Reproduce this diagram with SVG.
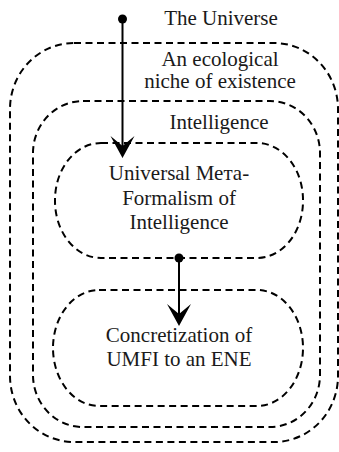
<svg xmlns="http://www.w3.org/2000/svg" width="339" height="452" viewBox="0 0 339 452">
  <style>
    .box { fill: none; stroke: #000; stroke-width: 2; stroke-dasharray: 7 4.5; }
    .lbl { font-size: 21px; fill: #1a1a1a; text-anchor: middle; }
    .edge { stroke: #000; stroke-width: 2; fill: none; }
  </style>
  <defs>
    <marker id="arrow" viewBox="-15 -14 25 28" markerWidth="25" markerHeight="28" refX="0" refY="0" orient="auto" markerUnits="userSpaceOnUse">
      <path d="M8,0 L-14,-12 L-4,0 L-14,12 Z" fill="#000"/>
    </marker>
  </defs>
  <rect width="339" height="452" fill="#fff"/>

  <g font-family="Liberation Serif, serif">
  <g id="universe">
    <text class="lbl" x="221" y="25">The Universe</text>
  </g>

  <g id="ene">
    <rect class="box" x="10" y="43" width="328" height="399" rx="64" ry="66"/>
    <text class="lbl" x="220" y="66">An ecological</text>
    <text class="lbl" x="220" y="88">niche of existence</text>
  </g>

  <g id="intelligence">
    <rect class="box" x="33" y="101" width="287" height="326" rx="50" ry="52"/>
    <text class="lbl" x="219" y="129">Intelligence</text>
  </g>

  <g id="umfi">
    <rect class="box" x="55" y="143" width="248" height="115" rx="46" ry="57"/>
    <text class="lbl" x="179" y="180">Universal Мета-</text>
    <text class="lbl" x="179" y="205">Formalism of</text>
    <text class="lbl" x="179" y="229">Intelligence</text>
  </g>

  <g id="concretization">
    <rect class="box" x="53" y="290" width="250" height="116" rx="46" ry="58"/>
    <text class="lbl" x="179" y="342">Concretization of</text>
    <text class="lbl" x="179" y="366">UMFI to an ENE</text>
  </g>
  </g>

  <g id="connectors">
    <circle cx="122.5" cy="19" r="4.5" fill="#000"/>
    <line class="edge" x1="122.5" y1="19" x2="122.5" y2="150" marker-end="url(#arrow)"/>
    <circle cx="179" cy="258" r="4.5" fill="#000"/>
    <line class="edge" x1="179" y1="258" x2="179" y2="318" marker-end="url(#arrow)"/>
  </g>
</svg>
